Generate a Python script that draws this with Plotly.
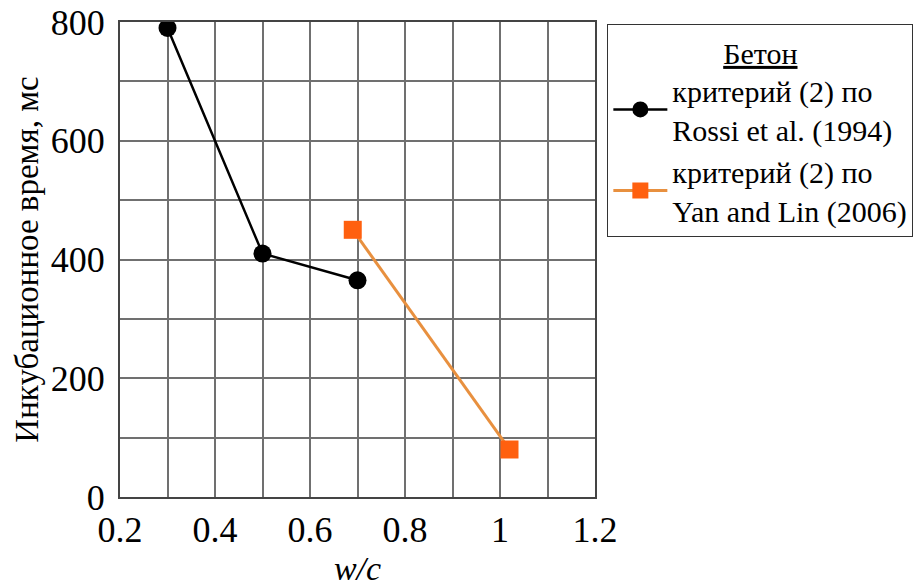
import plotly.graph_objects as go

rossi_x = [0.3, 0.5, 0.7]
rossi_y = [790, 410, 365]
yan_x = [0.69, 1.02]
yan_y = [450, 80]

rossi_name = "критерий (2) по<br>Rossi et al. (1994)"
yan_name = "критерий (2) по<br>Yan and Lin (2006)"
legend_title = '<span style="text-decoration:underline">Бетон</span>'
x_title = "<i>w/c</i>"
y_title = "Инкубационное время, мс"

FONT = "Liberation Serif"

fig = go.Figure()
fig.add_trace(go.Scatter(
    x=rossi_x, y=rossi_y, mode="lines+markers", name=rossi_name,
    line=dict(color="black", width=2.5),
    marker=dict(color="black", size=18, symbol="circle"),
))
fig.add_trace(go.Scatter(
    x=yan_x, y=yan_y, mode="lines+markers", name=yan_name,
    line=dict(color="#E8903F", width=3),
    marker=dict(color="#FF600F", size=18, symbol="square"),
))

grid_col = "#707070"
fig.update_layout(
    width=921, height=587,
    margin=dict(l=120, r=326, t=22, b=90, autoexpand=False),
    plot_bgcolor="white", paper_bgcolor="white",
    font=dict(family=FONT, color="black", size=30),
    showlegend=True,
    legend=dict(
        x=1.026, y=0.996, xanchor="left", yanchor="top",
        bordercolor="#333333", borderwidth=1,
        font=dict(family=FONT, size=30, color="black"),
        title=dict(text=legend_title, side="top center", font=dict(family=FONT, size=30)),
        itemwidth=54, tracegroupgap=0,
    ),
    xaxis=dict(
        range=[0.2, 1.2], dtick=0.2, tick0=0.2, automargin=False,
        showgrid=True, gridcolor=grid_col, gridwidth=1.5,
        minor=dict(dtick=0.1, tick0=0.2, showgrid=True, gridcolor=grid_col, gridwidth=1.5),
        showline=True, linecolor="#444444", linewidth=2, mirror=True,
        ticks="", tickfont=dict(size=36, family=FONT),
        title=dict(text=x_title, font=dict(size=34, family=FONT), standoff=12),
        zeroline=False,
    ),
    yaxis=dict(
        range=[0, 800], dtick=200, automargin=False,
        showgrid=True, gridcolor=grid_col, gridwidth=1.5,
        minor=dict(dtick=100, showgrid=True, gridcolor=grid_col, gridwidth=1.5),
        showline=True, linecolor="#444444", linewidth=2, mirror=True,
        ticks="", tickfont=dict(size=36, family=FONT), ticklabelstandoff=6,
        title=dict(text=y_title, font=dict(size=33, family=FONT), standoff=2),
        zeroline=False,
    ),
)

fig.write_html("out.html")
